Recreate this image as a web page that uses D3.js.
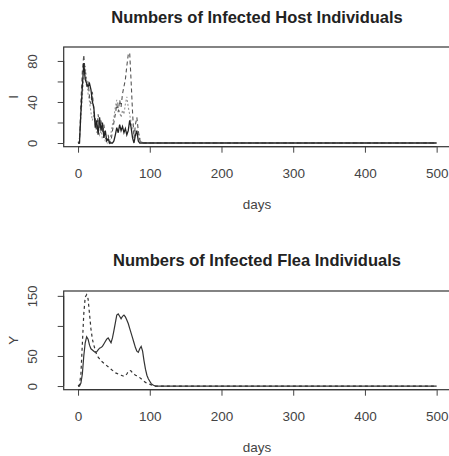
<!DOCTYPE html>
<html>
<head>
<meta charset="utf-8">
<script src="https://cdn.jsdelivr.net/npm/d3@7"></script>
<style>
  body { margin: 0; background: #fff; }
  svg { display: block; font-family: "Liberation Sans", Arial, sans-serif; }
</style>
</head>
<body>
<div id="chart"></div>
<script>
// host data, every 2 days up to day 90, then flat to day 500
var hostDays = [0,2,4,6,8,10,12,14,16,18,20,22,24,26,28,30,32,34,36,38,40,42,44,46,48,50,
  52,54,56,58,60,62,64,66,68,70,72,74,76,78,80,82,84,86,88,90,500];
var hostSolid = [0,0,30,55,78,62,58,55,58,52,40,35,15,22,8,25,12,20,5,12,2,4,0,0,0,2,
  8,15,10,18,12,16,10,14,8,12,22,15,5,0,8,12,2,0,0,0,0];
var hostDashed = [0,0,40,70,86,68,55,60,45,38,50,30,25,12,28,15,22,10,18,5,3,8,0,2,12,20,
  28,38,30,42,35,48,55,62,75,86,88,60,30,5,18,25,12,3,0,0,0];
var hostDotted = [0,5,25,45,65,75,62,48,40,30,22,28,18,10,15,8,12,4,6,2,0,0,2,10,18,25,
  35,42,35,30,25,32,28,38,45,35,28,20,15,10,12,8,10,5,2,0,0];

// flea data, every 2 days up to day 110, then flat to day 500
var fleaDays = [0,2,4,6,8,10,12,14,16,18,20,22,24,26,28,30,32,34,36,38,40,42,44,46,48,50,
  52,54,56,58,60,62,64,66,68,70,72,74,76,78,80,82,84,86,88,90,92,94,96,98,100,102,104,106,108,110,500];
var fleaSolid = [0,0,5,20,50,72,82,78,68,62,60,58,56,57,60,63,64,66,70,74,78,80,76,72,80,92,
  105,118,120,116,112,116,118,115,110,104,96,88,80,72,64,58,56,62,66,58,42,28,18,12,8,4,2,1,0,0,0];
var fleaDashed = [0,2,20,70,120,148,152,145,120,95,78,68,60,52,48,45,42,40,38,36,34,32,30,28,26,24,
  22,21,20,19,18,17,16,17,20,24,26,25,22,20,18,17,16,14,12,10,8,6,5,4,3,2,1,0,0,0,0];

var xTicks = [0,100,200,300,400,500];
var hostTicks = [0,20,40,60,80];
var hostLabels = [0,40,80];
var fleaTicks = [0,50,100,150];
var fleaLabels = [0,50,150];

var width = 449, height = 456;
var svg = d3.select("#chart").append("svg").attr("width", width).attr("height", height);

function panel(cfg) {
  var x = d3.scaleLinear().domain([-20, 520]).range([63.7, 451]);
  var y = d3.scaleLinear().domain(cfg.ydom).range([cfg.bottom, cfg.top]);
  var g = svg.append("g");

  // box
  g.append("rect")
    .attr("x", x(-20)).attr("y", cfg.top)
    .attr("width", x(520) - x(-20)).attr("height", cfg.bottom - cfg.top)
    .attr("fill", "none").attr("stroke", "#333").attr("stroke-width", 1.2);

  // title
  g.append("text")
    .attr("x", 257).attr("y", cfg.titleY)
    .attr("text-anchor", "middle")
    .attr("font-weight", "bold").attr("font-size", 16.5)
    .attr("fill", "#222")
    .text(cfg.title);

  // x axis (R style: line from first to last tick)
  var xa = g.append("g")
    .attr("transform", "translate(0," + cfg.bottom + ")")
    .call(d3.axisBottom(x).tickValues(xTicks).tickSize(6).tickPadding(16));
  xa.select(".domain").remove();
  xa.append("line").attr("x1", x(0)).attr("x2", x(500)).attr("stroke", "#333");
  xa.selectAll("text").attr("font-size", 13.5).attr("fill", "#444").attr("font-family", "Liberation Sans, Arial, sans-serif");
  xa.selectAll(".tick line").attr("stroke", "#444");

  // y axis
  var ya = g.append("g")
    .attr("transform", "translate(" + x(-20) + ",0)")
    .call(d3.axisLeft(y).tickValues(cfg.yticks).tickSize(6)
      .tickFormat(function(d) { return cfg.ylabels.indexOf(d) >= 0 ? d : ""; }));
  ya.select(".domain").remove();
  ya.append("line").attr("y1", y(cfg.yticks[0])).attr("y2", y(cfg.yticks[cfg.yticks.length - 1])).attr("stroke", "#333");
  ya.selectAll(".tick line").attr("stroke", "#444");
  ya.selectAll("text")
    .attr("font-size", 13).attr("fill", "#444").attr("font-family", "Liberation Sans, Arial, sans-serif")
    .attr("text-anchor", "middle")
    .attr("x", null).attr("dy", null)
    .attr("transform", "translate(-31,0) rotate(-90)")
    .attr("y", 4.5);

  // axis labels
  g.append("text")
    .attr("x", 257).attr("y", cfg.bottom + 62)
    .attr("text-anchor", "middle").attr("font-size", 13.5).attr("fill", "#444")
    .text("days");
  g.append("text")
    .attr("transform", "translate(18," + ((cfg.top + cfg.bottom) / 2) + ") rotate(-90)")
    .attr("text-anchor", "middle").attr("font-size", 13.5).attr("fill", "#444")
    .text(cfg.ylab);

  // lines
  cfg.series.forEach(function(s) {
    var line = d3.line()
      .x(function(d, i) { return x(cfg.days[i]); })
      .y(function(d) { return y(d); });
    g.append("path")
      .datum(s.values)
      .attr("d", line)
      .attr("fill", "none")
      .attr("stroke", s.color)
      .attr("stroke-width", s.width)
      .attr("stroke-dasharray", s.dash);
  });
}

panel({
  title: "Numbers of Infected Host Individuals",
  titleY: 23, top: 47, bottom: 146.7,
  ydom: [-3.6, 93.6], yticks: hostTicks, ylabels: hostLabels, ylab: "I",
  days: hostDays,
  series: [
    { values: hostDotted, color: "#999", width: 1.1, dash: "2,2" },
    { values: hostDashed, color: "#555", width: 1.1, dash: "4,3" },
    { values: hostSolid, color: "#222", width: 1.3, dash: null }
  ]
});

panel({
  title: "Numbers of Infected Flea Individuals",
  titleY: 266, top: 291, bottom: 389.7,
  ydom: [-6.1, 158.1], yticks: fleaTicks, ylabels: fleaLabels, ylab: "Y",
  days: fleaDays,
  series: [
    { values: fleaDashed, color: "#333", width: 1.2, dash: "3,3" },
    { values: fleaSolid, color: "#333", width: 1.2, dash: null }
  ]
});
</script>
</body>
</html>
